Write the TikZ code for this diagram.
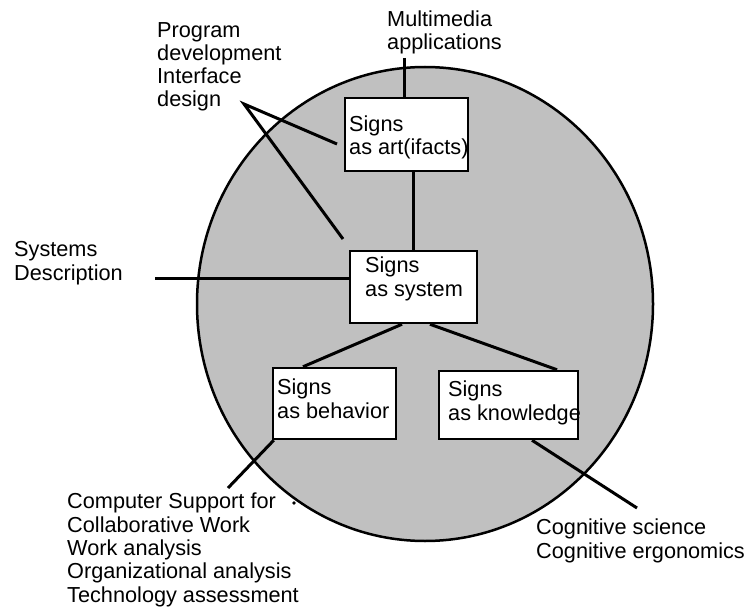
\documentclass[tikz,border=0pt]{standalone}
\usepackage{fontspec}
\setmainfont{Liberation Sans}
\begin{document}
\begin{tikzpicture}[x=1pt,y=-1pt,
  every node/.style={font=\fontsize{21.7pt}{23.3pt}\selectfont},
  signbox/.style={draw=black, line width=2.5pt, fill=white, inner sep=0pt},
  lbl/.style={inner sep=0pt, align=left, anchor=base west},
  link/.style={line width=3pt}]
\definecolor{discgray}{RGB}{192,192,192}
\useasboundingbox (0,0) rectangle (747,607);

% the shaded disc
\filldraw[fill=discgray, draw=black, line width=2.5pt]
  (425,304) ellipse [x radius=228, y radius=237];

% the four views of signs
\node[signbox, minimum width=123pt, minimum height=73pt] (art)  at (406.5,134.5) {};
\node[signbox, minimum width=127pt, minimum height=72pt] (sys)  at (413.5,287)   {};
\node[signbox, minimum width=123pt, minimum height=71pt] (beh)  at (334.5,403.5) {};
\node[signbox, minimum width=139pt, minimum height=68pt] (know) at (508.5,405)   {};

% labels are placed by the baseline of their last line
\node[lbl] (artT)  at (349,155) {Signs\\as art(ifacts)};
\node[lbl] (sysT)  at (365,296) {Signs\\as system};
\node[lbl] (behT)  at (277,418) {Signs\\as behavior};
\node[lbl] (knowT) at (448,420) {Signs\\as knowledge};

% fields of application
\node[lbl] (prog) at (157,107) {Program\\development\\Interface\\design};
\node[lbl] (mm)   at (387,50)  {Multimedia\\applications};
\node[lbl] (sysd) at (14,280)  {Systems\\Description};
\node[lbl] (cscw) at (67,602)  {Computer Support for\\Collaborative Work\\Work analysis\\Organizational analysis\\Technology assessment};
\node[lbl] (cog)  at (536,558) {Cognitive science\\Cognitive ergonomics};

% connectors
\coordinate (mmFoot) at (404,58);
\draw[link] (mmFoot) -- (mmFoot |- art.north);
\draw[link] (sys.north) -- (sys.north |- art.south);

\coordinate (pdFoot) at (244,104);
\coordinate (pdA) at (337,144);
\coordinate (pdB) at (343,239);
\draw[link] (pdA) -- (pdFoot) -- (pdB);

\coordinate (sdEnd) at (155,278);
\draw[link] (sdEnd) -- (sdEnd -| sys.west);

\draw[link] ([xshift=-11.5pt]sys.south) -- ([xshift=-31.5pt]beh.north);
\draw[link] ([xshift=16.5pt]sys.south) -- ([xshift=48.5pt]know.north);

\coordinate (cscwEnd) at (228,488);
\draw[link] ([xshift=2pt]beh.south west) -- (cscwEnd);

\coordinate (cogEnd) at (637,508);
\draw[link] ([xshift=23.5pt]know.south) -- (cogEnd);

\fill (294,503) circle [radius=1.8];
\end{tikzpicture}
\end{document}
